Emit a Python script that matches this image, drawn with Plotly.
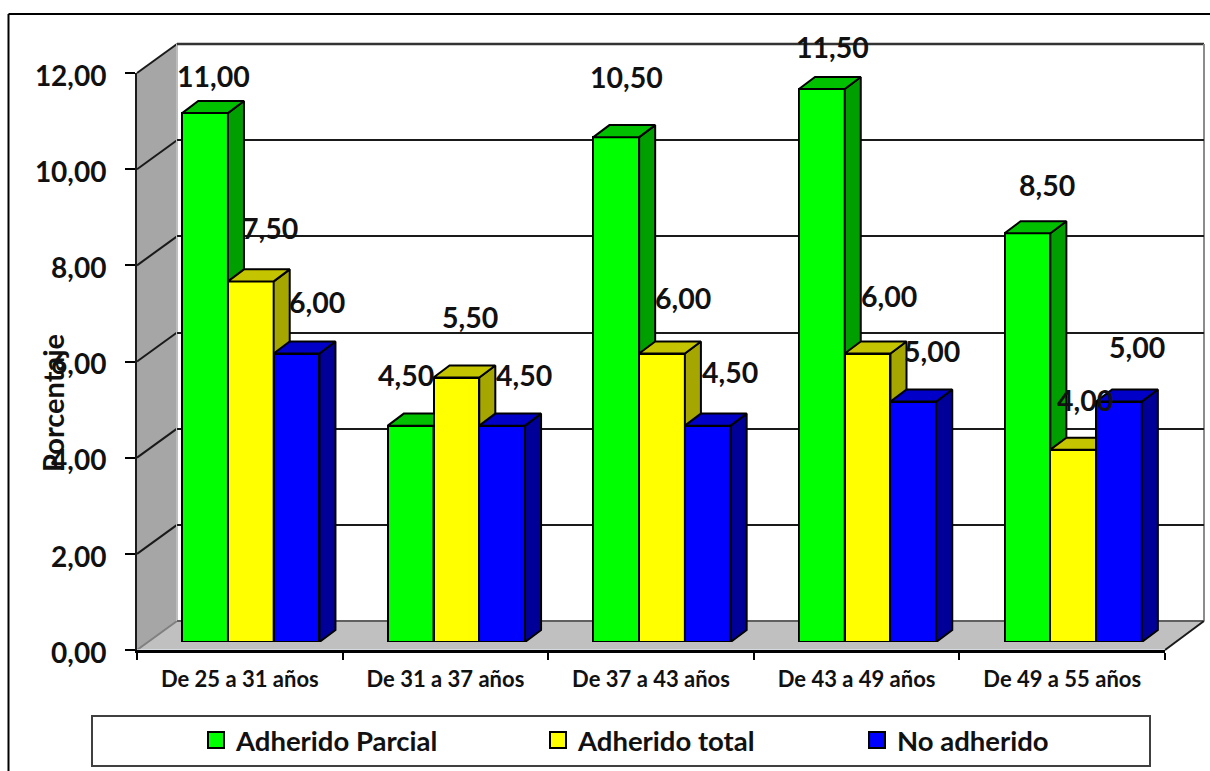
import plotly.graph_objects as go

categories = ["De 25 a 31 años", "De 31 a 37 años", "De 37 a 43 años", "De 43 a 49 años", "De 49 a 55 años"]
adherido_parcial = [11.0, 4.5, 10.5, 11.5, 8.5]
adherido_total = [7.5, 5.5, 6.0, 6.0, 4.0]
no_adherido = [6.0, 4.5, 4.5, 5.0, 5.0]
y_ticks = [0, 2, 4, 6, 8, 10, 12]

W, H = 1210, 771
FONT = "Lato, Carlito, Calibri, sans-serif"
BAR_W = 0.2225      # bar width in category units
DX, DY = 0.078, 0.25  # 3-D depth of a bar in axis units

series = [
    ("Adherido Parcial", adherido_parcial, "#00ff00", "#00c000", "#009f00", -BAR_W, 3),
    ("Adherido total", adherido_total, "#ffff00", "#c4c400", "#a6a600", 0.0, 4),
    ("No adherido", no_adherido, "#0000ff", "#0000c8", "#000099", BAR_W, 5),
]
# label shifts in px (dx, dy upward) from the top centre of each bar front
label_shift = {
    3: [(8, 37), (-5, 51), (10, 60), (11, 42), (20, 48)],
    4: [(19, 53), (14, 61), (21, 56), (21, 58), (12, 50)],
    5: [(20, 52), (22, 51), (22, 54), (19, 51), (18, 55)],
}
legend_pos = [(196, "legend"), (538, "legend2"), (857, "legend3")]


def px(x):
    return x / W


def py(y):
    return 1 - y / H


def dom_x(a, b):
    return [px(a), px(b)]


def dom_y(top, bottom):
    return [py(bottom), py(top)]


def hidden(**kw):
    return dict(visible=False, fixedrange=True, **kw)


fig = go.Figure()

# Back wall (subplot xy) carries the horizontal grid
fig.add_trace(go.Scatter(x=[None], y=[None], xaxis="x", yaxis="y", showlegend=False, hoverinfo="skip"))
# Front axes (subplot x2y2) carry the ticks and labels
fig.add_trace(go.Bar(x=categories, y=[0] * 5, xaxis="x2", yaxis="y2", showlegend=False, hoverinfo="skip"))

annotations = []
for name, values, front, top, side, off, n in series:
    xa, ya = f"x{n}", f"y{n}"
    for i, v in enumerate(values):
        xl = i + off - BAR_W / 2
        xr = i + off + BAR_W / 2
        fig.add_trace(go.Scatter(
            x=[xr, xr + DX, xr + DX, xr, xr], y=[0, DY, v + DY, v, 0],
            xaxis=xa, yaxis=ya, mode="lines", fill="toself", fillcolor=side,
            line=dict(color="black", width=2), showlegend=False, hoverinfo="skip"))
        fig.add_trace(go.Scatter(
            x=[xl, xl + DX, xr + DX, xr, xl], y=[v, v + DY, v + DY, v, v],
            xaxis=xa, yaxis=ya, mode="lines", fill="toself", fillcolor=top,
            line=dict(color="black", width=2), showlegend=False, hoverinfo="skip"))
        sx, sy = label_shift[n][i]
        annotations.append(dict(
            x=i + off, y=v, xref=xa, yref=ya, text=f"{v:.2f}".replace(".", ","),
            showarrow=False, xshift=sx, yshift=sy, xanchor="center", yanchor="middle",
            font=dict(family=FONT, size=28.5, color="#111111", weight=700)))
    fig.add_trace(go.Bar(
        x=[i + off for i in range(5)], y=values, width=BAR_W, xaxis=xa, yaxis=ya,
        marker=dict(color=front, line=dict(color="black", width=2)), name=name, showlegend=False))

# Legend keys, one independent legend per series
for (name, values, front, top, side, off, n), (lx, lg) in zip(series, legend_pos):
    fig.add_trace(go.Scatter(
        x=[None], y=[None], xaxis="x", yaxis="y", mode="markers", name=name, legend=lg,
        marker=dict(symbol="square", size=16, color=front, line=dict(color="black", width=2))))

legend_common = dict(orientation="v", xanchor="left", yanchor="middle", y=py(740),
                     bgcolor="rgba(0,0,0,0)", borderwidth=0,
                     font=dict(family=FONT, size=27.5, color="#111111", weight=700))

# Walls, floor, frame and legend box
shapes = []


def poly(pts, fill, line=None, lw=0):
    path = "M " + " L ".join(f"{px(x):.5f},{py(y):.5f}" for x, y in pts) + " Z"
    shapes.append(dict(type="path", path=path, xref="paper", yref="paper", layer="below",
                       fillcolor=fill, line=dict(color=line or fill, width=lw)))


def seg(x0, y0, x1, y1, color, lw):
    shapes.append(dict(type="line", x0=px(x0), y0=py(y0), x1=px(x1), y1=py(y1), xref="paper", yref="paper",
                       layer="below", line=dict(color=color, width=lw)))


poly([(137, 73), (177, 44), (177, 621), (137, 650)], "#a6a6a6")
poly([(137, 650), (177, 621), (1204, 621), (1165, 650)], "#c0c0c0")
for t in y_ticks:
    yy = 650 - t * 48.08
    seg(137, yy, 177, yy - 29, "#1a1a1a" if t else "#808080", 2)
seg(177, 44, 177, 621, "#bdbdbd", 2)
seg(177, 44, 1204, 44, "#333333", 2.5)
seg(177, 621, 1204, 621, "#606060", 2)
seg(1204, 44, 1204, 621, "#8c8c8c", 2)
seg(1204, 621, 1165, 650, "#1a1a1a", 2)
seg(8.5, 14, 1210, 14, "black", 2)
seg(8.5, 14, 8.5, 771, "black", 2)
shapes.append(dict(type="rect", x0=px(92), y0=py(766), x1=px(1150), y1=py(716), xref="paper", yref="paper",
                   layer="below", line=dict(color="#404040", width=2), fillcolor="white"))

annotations.append(dict(
    x=px(52), y=py(403), xref="paper", yref="paper", text="Porcentaje", textangle=-90, showarrow=False,
    xanchor="center", yanchor="middle",
    font=dict(family=FONT, size=29, color="#111111", weight=700)))

layout = dict(
    width=W, height=H, margin=dict(l=0, r=0, t=0, b=0, pad=0, autoexpand=False),
    paper_bgcolor="white", plot_bgcolor="rgba(0,0,0,0)", separators=",.",
    barmode="overlay", bargap=0, shapes=shapes, annotations=annotations,
    hovermode=False,
    xaxis=dict(domain=dom_x(177, 1204), range=[0, 1], visible=False, fixedrange=True, anchor="y"),
    yaxis=dict(domain=dom_y(44, 621), range=[0, 12], tickmode="array", tickvals=y_ticks[1:], showgrid=True,
               gridcolor="#1a1a1a", gridwidth=2, zeroline=False, showline=False, showticklabels=False,
               ticks="", fixedrange=True, anchor="x"),
    xaxis2=dict(domain=dom_x(137, 1165), type="category", categoryorder="array", categoryarray=categories,
                range=[-0.5, 4.5], showline=True, linecolor="black", linewidth=3, ticks="outside", ticklen=7,
                tickwidth=1.5, tickcolor="black", tickson="boundaries", showgrid=False, anchor="y2",
                fixedrange=True, ticklabelstandoff=8,
                tickfont=dict(family=FONT, size=22, color="#111111", weight=700)),
    yaxis2=dict(domain=dom_y(73, 650), range=[0, 12], tickmode="array", tickvals=y_ticks, tickformat=".2f",
                showline=True, linecolor="#1a1a1a", linewidth=2, ticks="outside", ticklen=10, tickwidth=1.5,
                tickcolor="black", showgrid=False, zeroline=False, anchor="x2", fixedrange=True,
                ticklabelstandoff=13, ticklabelshift=3,
                tickfont=dict(family=FONT, size=28, color="#111111", weight=700)),
)
for n in (3, 4, 5):
    layout[f"xaxis{n}"] = hidden(domain=dom_x(148, 1176), range=[-0.5, 4.5], anchor=f"y{n}")
    layout[f"yaxis{n}"] = hidden(domain=dom_y(65, 642), range=[0, 12], anchor=f"x{n}")
for lx, lg in legend_pos:
    layout[lg] = dict(x=px(lx), **legend_common)

fig.update_layout(**layout)
fig.write_html("out.html", config={"displayModeBar": False},
               post_script="document.body.style.margin='0';")
